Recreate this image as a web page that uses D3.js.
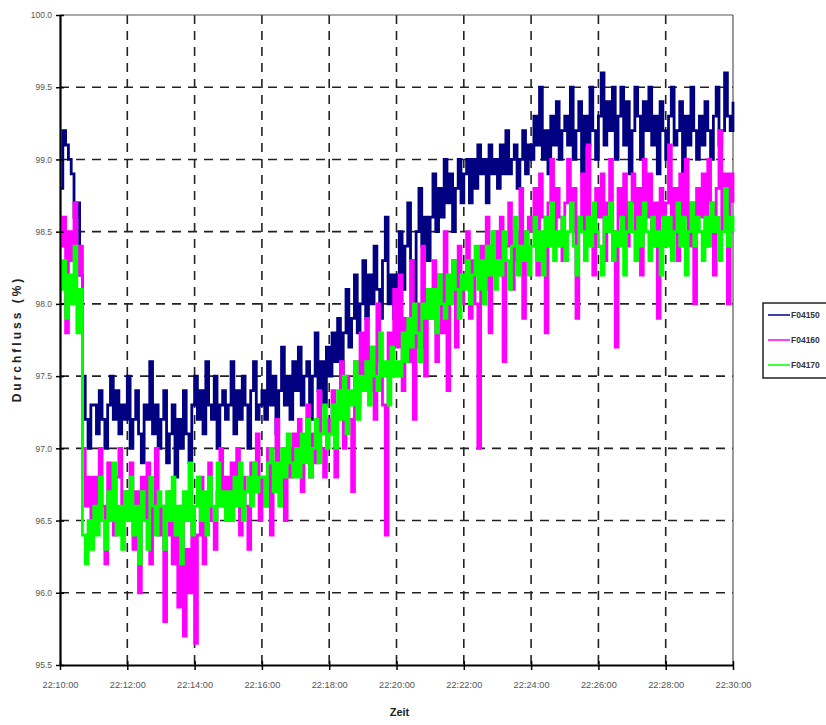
<!DOCTYPE html>
<html>
<head>
<meta charset="utf-8">
<script src="https://cdn.jsdelivr.net/npm/d3@7"></script>
<style>
  html, body { margin: 0; padding: 0; background: #fff; }
  svg { display: block; }
  .tick text { font-family: "Liberation Sans Narrow", "Arial Narrow", "Liberation Sans", sans-serif; }
</style>
</head>
<body>
<svg id="chart" width="826" height="725"></svg>
<script>
// ---- data (sampled every 5 s from 22:10:00 to 22:30:00) ----
const seriesNames = ["F04150", "F04160", "F04170"];
const seriesColors = ["#000080", "#ff00ff", "#00ff00"];
const startTime = "22:10:00";
const sampleSeconds = 5;

const F04150 = [
  98.8, 99.2, 99.1, 99.0, 98.9, 98.6, 98.7, 98.2, 97.5, 97.2, 97.0, 97.3,
  97.3, 97.1, 97.4, 97.2, 97.0, 97.3, 97.5, 97.2, 97.4, 97.1, 97.3, 97.2,
  97.5, 97.0, 97.2, 97.4, 97.1, 96.9, 97.3, 97.2, 97.6, 97.1, 97.3, 97.0,
  97.2, 97.4, 96.9, 97.1, 97.3, 96.8, 97.2, 97.0, 97.4, 97.1, 96.9, 97.3,
  97.5, 97.2, 97.4, 97.1, 97.6, 97.3, 97.2, 97.5, 97.0, 97.3, 97.4, 97.2,
  97.3, 97.6, 97.1, 97.4, 97.2, 97.5, 97.3, 97.0, 97.4, 97.6, 97.2, 97.3,
  97.4, 97.2, 97.6, 97.3, 97.5, 97.1, 97.4, 97.7, 97.3, 97.5, 97.2, 97.6,
  97.4, 97.7, 97.3, 97.5, 97.6, 97.2, 97.5, 97.8, 97.4, 97.6, 97.3, 97.7,
  97.5, 97.8, 97.6, 97.9, 97.5, 97.8, 98.1, 97.7, 97.9, 98.2, 97.8, 98.0,
  98.3, 97.9, 98.2, 98.0, 98.4, 98.1, 97.9, 98.3, 98.6, 98.0, 98.2, 97.9,
  98.2, 98.5, 98.1, 98.4, 98.7, 98.3, 98.0, 98.5, 98.8, 98.4, 98.6, 98.3,
  98.6, 98.9, 98.5, 98.8, 98.6, 99.0, 98.7, 98.9, 98.5, 98.8, 99.0, 98.7,
  98.9, 99.0, 98.7, 99.0, 98.8, 99.1, 98.9, 99.0, 98.7, 99.1, 98.9, 99.0,
  98.8, 99.1, 98.9, 99.2, 98.9, 99.0, 99.1, 98.8, 99.0, 99.2, 98.9, 99.1,
  99.0, 99.3, 99.1, 99.5, 99.0, 99.2, 98.9, 99.3, 99.1, 99.4, 99.0, 99.2,
  99.3, 99.1, 99.5, 99.0, 99.2, 99.4, 98.9, 99.3, 99.1, 99.5, 99.2, 99.0,
  99.3, 99.6, 99.1, 99.4, 99.2, 99.5, 99.0, 99.3, 99.5, 99.1, 99.4, 98.9,
  99.2, 99.5, 99.3, 99.0, 99.4, 99.2, 99.5, 99.1, 99.3, 98.9, 99.4, 99.2,
  99.0, 99.3, 99.5, 99.1, 99.2, 99.4, 98.8, 99.3, 99.1, 99.5, 99.2, 99.0,
  99.3, 99.1, 99.4, 99.2, 99.0, 99.3, 99.5, 99.1, 99.2, 99.6, 99.3, 99.2,
  99.4
];

const F04160 = [
  98.4, 98.6, 97.8, 98.5, 98.3, 98.7, 98.2, 98.4, 97.0, 96.6, 96.8, 96.4,
  96.8, 96.5, 97.0, 96.6, 96.2, 96.9, 96.7, 96.4, 96.8, 97.0, 96.5, 96.7,
  96.6, 96.9, 96.3, 96.7, 96.0, 96.8, 96.5, 96.9, 96.2, 96.6, 97.0, 96.4,
  96.6, 95.8, 96.4, 96.7, 96.2, 96.5, 95.9, 96.6, 95.7, 96.3, 96.0, 96.5,
  95.65, 96.4, 96.8, 96.2, 96.6, 96.9, 96.5, 96.3, 96.7, 97.0, 96.6, 96.8,
  96.5, 96.9, 96.7, 97.0, 96.4, 96.8, 96.6, 96.3, 96.9, 96.7, 97.1, 96.5,
  96.8, 96.6, 97.0, 96.4, 96.9, 97.2, 96.7, 96.9, 96.5, 97.0, 96.8, 97.1,
  96.9, 97.2, 96.7, 97.0, 97.3, 96.8, 97.1, 96.9, 97.4, 97.0, 96.8, 97.2,
  97.1, 97.4, 96.8, 97.3, 97.6, 97.0, 97.5, 97.2, 96.7, 97.6, 97.3, 97.8,
  97.5, 97.9, 97.4, 97.7, 97.2, 98.0, 97.6, 97.3, 96.4, 97.8, 97.5, 98.1,
  97.7, 98.2, 97.4, 97.9, 97.6, 98.3, 97.2, 98.0, 97.7, 98.4, 97.5, 98.1,
  97.9, 98.3, 97.6, 98.2, 97.8, 98.5, 97.4, 98.1, 98.3, 97.7, 98.4, 98.0,
  98.2, 98.5, 97.9, 98.3, 98.0, 97.0, 98.4, 98.1, 98.6, 97.8, 98.3, 98.5,
  98.2, 98.6, 97.6, 98.4, 98.7, 98.1, 98.5, 98.3, 98.8, 97.9, 98.5, 98.6,
  98.5, 98.8, 98.2, 98.9, 98.6, 97.8, 98.7, 99.0, 98.4, 98.8, 98.6, 98.3,
  98.7, 99.0, 98.5, 98.8, 97.9, 98.6, 98.9, 98.4, 99.1, 98.6, 98.2, 98.8,
  98.6, 98.9, 98.3, 98.7, 99.0, 98.5, 97.7, 98.8, 98.6, 98.9, 98.4, 98.7,
  98.9, 98.5, 98.8, 98.2, 99.0, 98.6, 98.9, 98.4, 98.7, 97.9, 98.8, 98.6,
  98.7, 99.1, 98.5, 98.8, 98.3, 98.9, 98.6, 99.0, 98.4, 98.7, 98.0, 98.8,
  98.6, 98.9, 98.4, 99.0, 98.7, 98.2, 98.8, 99.2, 98.5, 98.9, 98.0, 98.9,
  98.7
];

const F04170 = [
  98.1, 98.3, 97.9, 98.2, 98.0, 98.4, 97.8, 98.1, 96.4, 96.2, 96.5, 96.3,
  96.6, 96.4, 96.8, 96.5, 96.3, 96.7, 96.5, 96.9, 96.4, 96.6, 96.3, 96.7,
  96.5, 96.8, 96.4, 96.6, 96.2, 96.7, 96.5, 96.3, 96.8, 96.6, 96.4, 96.7,
  96.6, 96.3, 96.7, 96.5, 96.8, 96.4, 96.6, 96.2, 96.7, 96.5, 96.9, 96.4,
  96.6, 96.8, 96.5, 96.7, 96.4, 96.8, 96.6, 96.5, 96.9, 96.6, 96.7, 96.5,
  96.7, 96.5, 96.8, 96.6, 96.9, 96.5, 96.7, 96.8, 96.6, 96.9, 96.7, 96.8,
  96.8, 96.6, 96.9, 97.0, 96.7, 96.9, 96.6, 97.0, 96.8, 97.1, 96.9, 96.8,
  97.0, 96.8, 97.1, 96.9, 97.2, 96.8, 97.0, 97.2, 96.9, 97.1, 97.3, 97.0,
  97.1, 97.3, 97.0, 97.4, 97.2, 97.5, 97.1, 97.4, 97.3, 97.6, 97.2, 97.5,
  97.4, 97.6, 97.3, 97.7, 97.5, 97.4, 97.8, 97.5, 97.6, 97.3, 97.7, 97.5,
  97.6, 97.5, 97.8, 97.6, 97.9, 97.7, 98.0, 97.8, 97.6, 98.0, 97.9, 98.1,
  97.9, 98.1, 97.8, 98.2, 98.0, 97.9, 98.2, 98.0, 98.3, 98.1, 97.9, 98.2,
  98.1, 98.3, 98.0, 98.2, 98.4, 98.1, 98.3, 98.0, 98.4, 98.2, 98.5, 98.1,
  98.3, 98.2, 98.5, 98.3, 98.1, 98.4, 98.6, 98.2, 98.4, 98.3, 98.5, 98.2,
  98.4, 98.6, 98.3, 98.5, 98.2, 98.6, 98.4, 98.7, 98.3, 98.5, 98.4, 98.6,
  98.3, 98.5, 98.7, 98.4, 98.2, 98.6, 98.5, 98.3, 98.6, 98.4, 98.7, 98.5,
  98.4, 98.2, 98.6, 98.5, 98.7, 98.3, 98.5, 98.4, 98.6, 98.2, 98.5, 98.7,
  98.5, 98.3, 98.6, 98.4, 98.7, 98.5, 98.3, 98.6, 98.4, 98.5, 98.2, 98.6,
  98.4, 98.6, 98.3, 98.5, 98.7, 98.4, 98.6, 98.2, 98.5, 98.7, 98.4, 98.6,
  98.5, 98.3, 98.6, 98.4, 98.7, 98.5, 98.6, 98.3, 98.5, 98.8, 98.4, 98.6,
  98.5
];

const yTickValues = [95.5, 96.0, 96.5, 97.0, 97.5, 98.0, 98.5, 99.0, 99.5, 100.0];
const xTickLabels = ["22:10:00", "22:12:00", "22:14:00", "22:16:00", "22:18:00",
                     "22:20:00", "22:22:00", "22:24:00", "22:26:00", "22:28:00", "22:30:00"];
const xTitle = "Zeit";
const yTitle = "Durchfluss (%)";

// ---- layout ----
const svg = d3.select("#chart");
const plot = { left: 60, right: 733, top: 15, bottom: 665 };
const parseT = d3.timeParse("%H:%M:%S");
const t0 = parseT(startTime);
const xTicks = xTickLabels.map(parseT);

const x = d3.scaleTime()
  .domain([xTicks[0], xTicks[xTicks.length - 1]])
  .range([plot.left, plot.right]);
const y = d3.scaleLinear()
  .domain([95.5, 100.0])
  .range([plot.bottom, plot.top]);

const allSeries = [F04150, F04160, F04170].map((vals, k) => ({
  name: seriesNames[k],
  color: seriesColors[k],
  points: vals.map((v, i) => ({ t: new Date(t0.getTime() + i * sampleSeconds * 1000), v }))
}));

// gridlines
const grid = svg.append("g");
grid.selectAll("line.h")
  .data(yTickValues.slice(1, -1))
  .join("line")
  .attr("x1", plot.left).attr("x2", plot.right)
  .attr("y1", d => y(d)).attr("y2", d => y(d))
  .attr("stroke", "#222").attr("stroke-width", 1.6)
  .attr("stroke-dasharray", "9,7");
grid.selectAll("line.v")
  .data(xTicks.slice(1, -1))
  .join("line")
  .attr("y1", plot.top).attr("y2", plot.bottom)
  .attr("x1", d => x(d)).attr("x2", d => x(d))
  .attr("stroke", "#222").attr("stroke-width", 1.6)
  .attr("stroke-dasharray", "9,7");

// frame top/right
svg.append("line").attr("x1", plot.left).attr("x2", plot.right)
  .attr("y1", plot.top).attr("y2", plot.top).attr("stroke", "#555").attr("stroke-width", 1.2);
svg.append("line").attr("x1", plot.right).attr("x2", plot.right)
  .attr("y1", plot.top).attr("y2", plot.bottom).attr("stroke", "#555").attr("stroke-width", 1.2);

// series
const line = d3.line()
  .x(d => x(d.t))
  .y(d => y(d.v))
  .curve(d3.curveStepAfter);
svg.append("g")
  .selectAll("path")
  .data(allSeries)
  .join("path")
  .attr("d", d => line(d.points))
  .attr("fill", "none")
  .attr("stroke", d => d.color)
  .attr("stroke-width", 2.8);

// axes
const fmt = d3.timeFormat("%H:%M:%S");
const xAxis = svg.append("g")
  .attr("transform", `translate(0,${plot.bottom})`)
  .call(d3.axisBottom(x).tickValues(xTicks).tickFormat(fmt).tickSizeInner(5).tickSizeOuter(0).tickPadding(12));
xAxis.select(".domain").attr("stroke", "#000").attr("stroke-width", 2.2);
xAxis.selectAll(".tick line").attr("stroke", "#000").attr("stroke-width", 1.5).attr("y1", -4);
xAxis.selectAll(".tick text").attr("font-size", 9).attr("fill", "#555")
  .attr("textLength", 36).attr("lengthAdjust", "spacingAndGlyphs");

const yAxis = svg.append("g")
  .attr("transform", `translate(${plot.left},0)`)
  .call(d3.axisLeft(y).tickValues(yTickValues).tickFormat(d3.format(".1f")).tickSizeInner(4).tickSizeOuter(0).tickPadding(4));
yAxis.select(".domain").attr("stroke", "#000").attr("stroke-width", 2.2);
yAxis.selectAll(".tick line").attr("stroke", "#000").attr("stroke-width", 1.5).attr("x2", 4).attr("x1", -4);
yAxis.selectAll(".tick text").attr("font-size", 8.5).attr("fill", "#555");

// titles
svg.append("text")
  .attr("x", (plot.left + plot.right) / 2 + 3)
  .attr("y", 716)
  .attr("text-anchor", "middle")
  .attr("font-family", "'Liberation Sans Narrow', 'Arial Narrow', sans-serif")
  .attr("font-weight", "bold")
  .attr("font-size", 11)
  .attr("fill", "#222")
  .text(xTitle);
svg.append("text")
  .attr("transform", `translate(21,339) rotate(-90)`)
  .attr("text-anchor", "middle")
  .attr("font-family", "'Liberation Sans Narrow', 'Arial Narrow', sans-serif")
  .attr("font-weight", "bold")
  .attr("font-size", 12)
  .attr("letter-spacing", 3)
  .attr("fill", "#222")
  .text(yTitle);

// legend
const lg = svg.append("g");
lg.append("rect")
  .attr("x", 763).attr("y", 303).attr("width", 70).attr("height", 75)
  .attr("fill", "#fff").attr("stroke", "#222").attr("stroke-width", 1.5);
const items = lg.selectAll("g.item").data(allSeries).join("g")
  .attr("transform", (d, i) => `translate(768,${[315, 340, 365][i]})`);
items.append("line").attr("x1", 0).attr("x2", 22).attr("y1", 0).attr("y2", 0)
  .attr("stroke", d => d.color).attr("stroke-width", 1.5);
items.append("text").attr("x", 23).attr("y", 3)
  .attr("font-family", "'Liberation Sans Narrow', 'Arial Narrow', sans-serif")
  .attr("font-weight", "bold").attr("font-size", 8.5).attr("fill", "#333")
  .text(d => d.name);
</script>
</body>
</html>
